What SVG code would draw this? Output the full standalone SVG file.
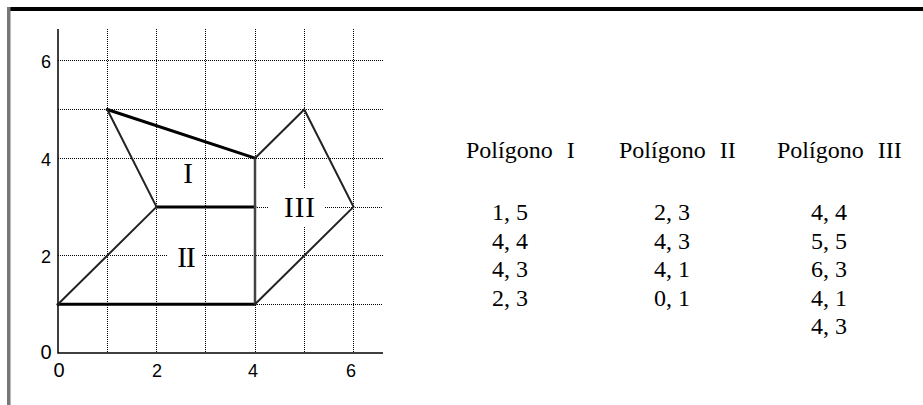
<svg xmlns="http://www.w3.org/2000/svg" width="923" height="405" viewBox="0 0 923 405">
<style>
.grid{stroke:#000;stroke-width:1;stroke-dasharray:1 1;fill:none}
.axis{stroke:#000;stroke-width:1.5;fill:none}
.thick{stroke:#000;stroke-width:3;fill:none;stroke-linecap:round}
.med{stroke:#222;stroke-width:2;fill:none;stroke-linecap:round}
.vert{stroke:#444;stroke-width:2.5;fill:none}
.ax{font-family:"Liberation Sans",Arial,sans-serif;font-size:18px;fill:#000;text-anchor:middle}
.rn{font-family:"Liberation Serif","Times New Roman",serif;font-size:29px;fill:#000;text-anchor:middle}
.tb{font-family:"Liberation Serif","Times New Roman",serif;font-size:24px;fill:#000}
</style>
<rect width="923" height="405" fill="#fff"/>
<g id="frame">
<rect x="7" y="7" width="916" height="4" fill="#000"/>
<rect x="7" y="7" width="3.5" height="398" fill="#777"/>
</g>
<g id="grid">
<path class="grid" d="M58 60.5H383M58 109.5H383M58 158.5H383M58 255.5H383M255 207.5H383M255 304.5H383"/>
<path class="grid" d="M107.5 29V353M156.5 29V353M205.5 29V353M255.5 29V353M304.5 29V353M353.5 29V353"/>
</g>
<g id="axes">
<path class="axis" d="M58 29V353H383"/>
<text class="ax" x="46" y="68">6</text>
<text class="ax" x="46" y="166">4</text>
<text class="ax" x="46" y="263">2</text>
<text class="ax" x="46" y="359" style="font-size:20px">0</text>
<text class="ax" x="59" y="377" style="font-size:20px">0</text>
<text class="ax" x="157" y="377">2</text>
<text class="ax" x="253" y="377">4</text>
<text class="ax" x="351" y="377">6</text>
</g>
<g id="connectors">
<path class="thick" d="M107.25 109.5L255 158.2"/>
<path class="thick" d="M156.5 206.9H255"/>
<path class="thick" d="M58 304.3H255"/>
<path class="med" d="M107.25 109.5L156.5 206.9"/>
<path class="med" d="M58 304.3L156.5 206.9"/>
<path class="vert" d="M255 158.2V304.3"/>
<path class="med" d="M255 158.2L304.25 109.5L353.5 206.9L255 304.3"/>
</g>
<g id="label-I">
<text class="rn" x="188" y="183">I</text>
</g>
<g id="label-II">
<rect x="167" y="240" width="35" height="32" fill="#fff"/>
<text class="rn" x="186" y="267" style="letter-spacing:-1px">II</text>
</g>
<g id="label-III">
<rect x="268" y="188" width="57" height="39" fill="#fff"/>
<text class="rn" x="300" y="217" style="letter-spacing:1px">III</text>
</g>
<g id="table">
<text class="tb" x="466" y="158" style="word-spacing:8px">Polígono I</text>
<text class="tb" x="619" y="158" style="word-spacing:8px">Polígono II</text>
<text class="tb" x="777" y="158" style="word-spacing:8px">Polígono III</text>
<g id="col1">
<text class="tb" x="492" y="220">1, 5</text>
<text class="tb" x="492" y="248.5">4, 4</text>
<text class="tb" x="492" y="277">4, 3</text>
<text class="tb" x="492" y="305.5">2, 3</text>
</g>
<g id="col2">
<text class="tb" x="654" y="220">2, 3</text>
<text class="tb" x="654" y="248.5">4, 3</text>
<text class="tb" x="654" y="277">4, 1</text>
<text class="tb" x="654" y="305.5">0, 1</text>
</g>
<g id="col3">
<text class="tb" x="811" y="220">4, 4</text>
<text class="tb" x="811" y="248.5">5, 5</text>
<text class="tb" x="811" y="277">6, 3</text>
<text class="tb" x="811" y="305.5">4, 1</text>
<text class="tb" x="811" y="334">4, 3</text>
</g>
</g>
</svg>
